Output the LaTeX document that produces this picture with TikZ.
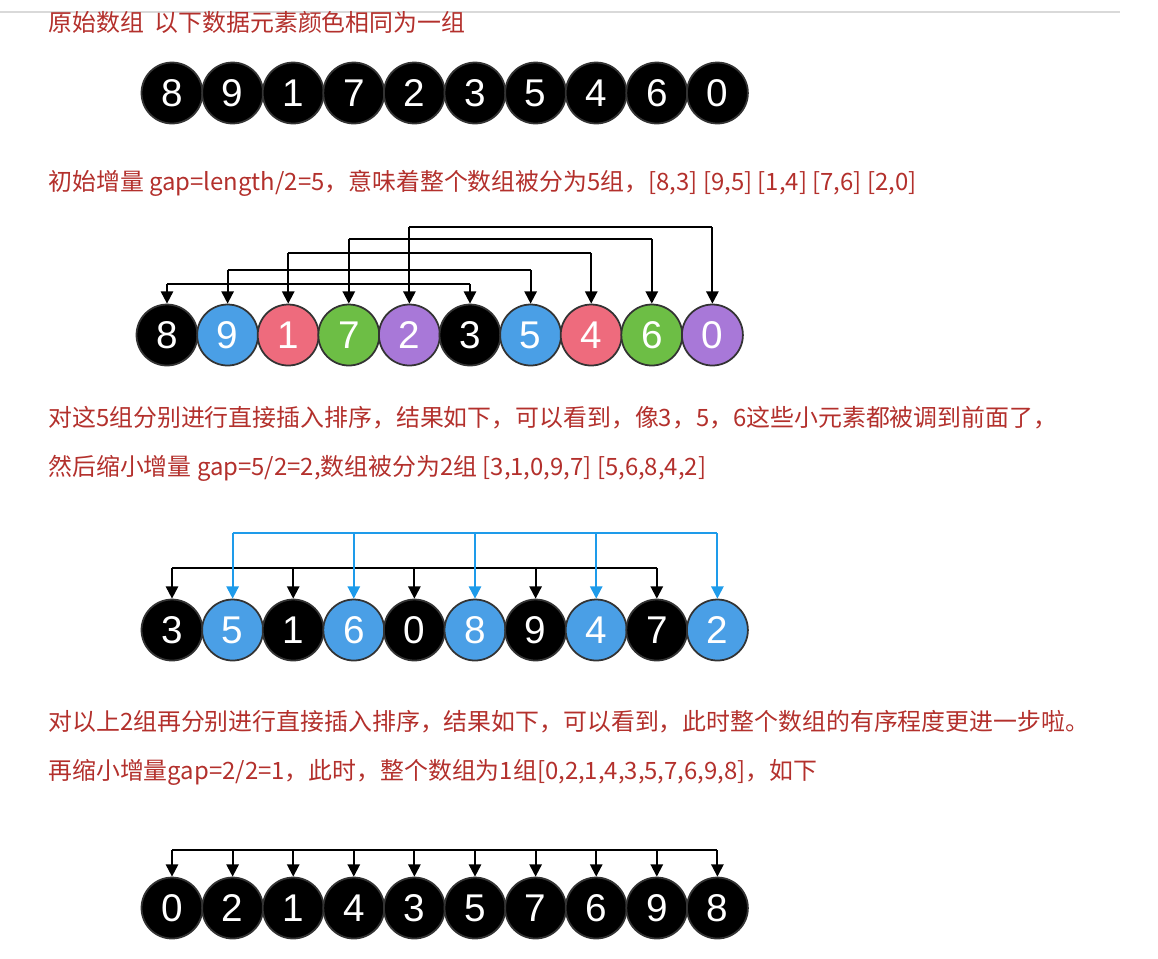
\documentclass[tikz,border=0pt]{standalone}
\usepackage{fontspec}
\setmainfont{Liberation Sans}
\newfontfamily\cjk{Noto Sans CJK SC}
\usetikzlibrary{arrows.meta}
\definecolor{txtred}{HTML}{B3302C}
\definecolor{cblue}{HTML}{4A9FE6}
\definecolor{cred}{HTML}{EE6B7D}
\definecolor{cgreen}{HTML}{6DBE45}
\definecolor{cpurple}{HTML}{A878D8}
\definecolor{lblue}{HTML}{1E9BEA}
\begin{document}
\begin{tikzpicture}[x=0.02cm,y=-0.02cm,
  ball/.style={circle,draw=black!80,line width=1pt,minimum size=1.22cm,inner sep=0pt,text=white,font=\fontsize{22}{22}\selectfont},
  lbl/.style={anchor=west,text=txtred,font=\cjk\fontsize{13.6}{15}\selectfont,inner sep=0pt},
  conn/.style={line width=1.1pt,-{Triangle[length=7pt,width=7pt]}},
  bconn/.style={conn,draw=lblue,-{Triangle[length=7pt,width=7pt,fill=lblue]}}]
\useasboundingbox (0,0) rectangle (1158,958);
\draw[gray!30,line width=1pt] (0,12) -- (1120,12);
\node[lbl] (t1) at (48,22) {原始数组\ \ 以下数据元素颜色相同为一组};
\node[lbl] (t2) at (48,183) {初始增量 gap=length/2=5，意味着整个数组被分为5组，[8,3] [9,5] [1,4] [7,6] [2,0]};
\node[lbl] (t3) at (48,418) {对这5组分别进行直接插入排序，结果如下，可以看到，像3，5，6这些小元素都被调到前面了，};
\node[lbl] (t4) at (48,468) {然后缩小增量 gap=5/2=2,数组被分为2组 [3,1,0,9,7] [5,6,8,4,2]};
\node[lbl] (t5) at (48,722) {对以上2组再分别进行直接插入排序，结果如下，可以看到，此时整个数组的有序程度更进一步啦。};
\node[lbl] (t6) at (48,772) {再缩小增量gap=2/2=1，此时，整个数组为1组[0,2,1,4,3,5,7,6,9,8]，如下};
% row A
\foreach \v [count=\i from 0] in {8,9,1,7,2,3,5,4,6,0}
  \node[ball,fill=black] (a\i) at (172+60.6*\i,93) {\v};
% row B
\foreach \v/\c [count=\i from 0] in {8/black,9/cblue,1/cred,7/cgreen,2/cpurple,3/black,5/cblue,4/cred,6/cgreen,0/cpurple}
  \node[ball,fill=\c] (b\i) at (167+60.6*\i,335) {\v};
\foreach \i/\h in {0/284,1/270,2/253,3/239,4/227}{
  \pgfmathtruncatemacro\j{\i+5}
  \draw[line width=1.1pt] (b\i.north |- 0,\h) coordinate (p\i) -- (b\j.north |- 0,\h) coordinate (q\i);
  \draw[conn] (p\i) -- (b\i.north);
  \draw[conn] (q\i) -- (b\j.north);
}
% row C
\foreach \v/\c [count=\i from 0] in {3/black,5/cblue,1/black,6/cblue,0/black,8/cblue,9/black,4/cblue,7/black,2/cblue}
  \node[ball,fill=\c] (c\i) at (172+60.6*\i,630) {\v};
\draw[line width=1.1pt] (c0.north |- 0,568) -- (c8.north |- 0,568);
\foreach \i in {0,2,4,6,8} \draw[conn] (c\i.north |- 0,568) -- (c\i.north);
\draw[line width=1.1pt,lblue] (c1.north |- 0,533) -- (c9.north |- 0,533);
\foreach \i in {1,3,5,7,9} \draw[bconn] (c\i.north |- 0,533) -- (c\i.north);
% row D
\foreach \v [count=\i from 0] in {0,2,1,4,3,5,7,6,9,8}
  \node[ball,fill=black] (d\i) at (172+60.6*\i,908) {\v};
\draw[line width=1.1pt] (d0.north |- 0,850) -- (d9.north |- 0,850);
\foreach \i in {0,...,9} \draw[conn] (d\i.north |- 0,850) -- (d\i.north);
\end{tikzpicture}
\end{document}
